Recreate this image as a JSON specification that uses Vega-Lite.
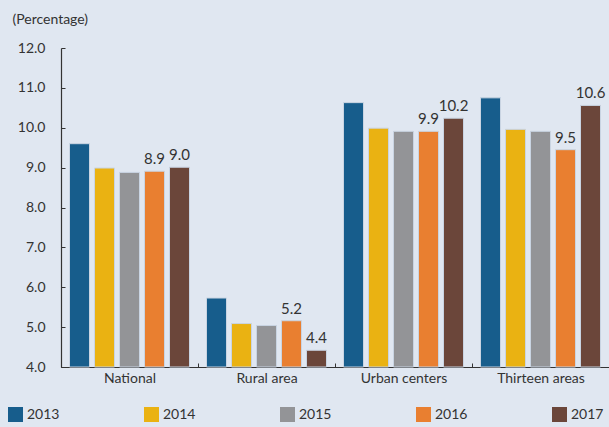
{
  "$schema": "https://vega.github.io/schema/vega-lite/v6.json",
  "width": 548,
  "height": 319,
  "autosize": {"type": "none"},
  "padding": {"left": 61, "top": 48, "right": 0, "bottom": 60},
  "background": "#e0e7f1",
  "config": {
    "view": {"stroke": null},
    "font": "Lato",
    "axis": {"labelFont": "Lato", "titleFont": "Lato", "labelColor": "#333333", "titleColor": "#333333", "domainColor": "#333333", "tickColor": "#333333", "grid": false},
    "legend": {"labelFont": "Lato"}
  },
  "data": {
    "values": [
      {"region": "National", "year": "2013", "value": 9.6, "label": null},
      {"region": "National", "year": "2014", "value": 8.99, "label": null},
      {"region": "National", "year": "2015", "value": 8.88, "label": null},
      {"region": "National", "year": "2016", "value": 8.91, "label": "8.9"},
      {"region": "National", "year": "2017", "value": 9.01, "label": "9.0"},
      {"region": "Rural area", "year": "2013", "value": 5.73, "label": null},
      {"region": "Rural area", "year": "2014", "value": 5.09, "label": null},
      {"region": "Rural area", "year": "2015", "value": 5.04, "label": null},
      {"region": "Rural area", "year": "2016", "value": 5.16, "label": "5.2"},
      {"region": "Rural area", "year": "2017", "value": 4.42, "label": "4.4"},
      {"region": "Urban centers", "year": "2013", "value": 10.63, "label": null},
      {"region": "Urban centers", "year": "2014", "value": 9.99, "label": null},
      {"region": "Urban centers", "year": "2015", "value": 9.91, "label": null},
      {"region": "Urban centers", "year": "2016", "value": 9.91, "label": "9.9"},
      {"region": "Urban centers", "year": "2017", "value": 10.24, "label": "10.2"},
      {"region": "Thirteen areas", "year": "2013", "value": 10.75, "label": null},
      {"region": "Thirteen areas", "year": "2014", "value": 9.96, "label": null},
      {"region": "Thirteen areas", "year": "2015", "value": 9.91, "label": null},
      {"region": "Thirteen areas", "year": "2016", "value": 9.45, "label": "9.5"},
      {"region": "Thirteen areas", "year": "2017", "value": 10.56, "label": "10.6"}
    ]
  },
  "encoding": {
    "x": {
      "field": "region", "type": "nominal", "sort": null,
      "scale": {"paddingInner": 0, "paddingOuter": 0},
      "axis": {"title": null, "labelAngle": 0, "labelFontSize": 14, "labelPadding": 8, "tickBand": "extent", "tickSize": -4, "domainWidth": 1.2}
    },
    "xOffset": {"field": "year", "type": "nominal", "scale": {"paddingInner": 0.2, "paddingOuter": 0.34}},
    "y": {
      "field": "value", "type": "quantitative",
      "scale": {"domain": [4, 12], "zero": false, "nice": false},
      "axis": {
        "title": "(Percentage)", "titleAngle": 0, "titleAlign": "left", "titleBaseline": "alphabetic",
        "titleX": -49, "titleY": -25, "titleFontSize": 14, "titleFontWeight": "normal",
        "values": [4, 5, 6, 7, 8, 9, 10, 11, 12], "format": ".1f",
        "labelFontSize": 14, "tickSize": -4, "labelPadding": 20, "domainWidth": 1.2
      }
    }
  },
  "layer": [
    {
      "mark": {"type": "bar", "stroke": "#c9d4e2", "strokeWidth": 1},
      "encoding": {
        "y2": {"datum": 4},
        "color": {
          "field": "year", "type": "nominal",
          "scale": {"domain": ["2013", "2014", "2015", "2016", "2017"], "range": ["#175d8c", "#eab212", "#939497", "#e97f30", "#6b463a"]},
          "legend": {
            "title": null, "orient": "none", "legendX": -53, "legendY": 359, "direction": "horizontal",
            "symbolType": "square", "symbolSize": 225, "symbolStrokeWidth": 0, "symbolOpacity": 1,
            "labelFontSize": 14, "labelColor": "#333333", "labelOffset": 4, "columnPadding": 84
          }
        }
      }
    },
    {
      "transform": [{"filter": "datum.label != null"}],
      "mark": {"type": "text", "baseline": "alphabetic", "dy": -7, "fontSize": 15, "color": "#333333"},
      "encoding": {"text": {"field": "label"}}
    }
  ]
}
